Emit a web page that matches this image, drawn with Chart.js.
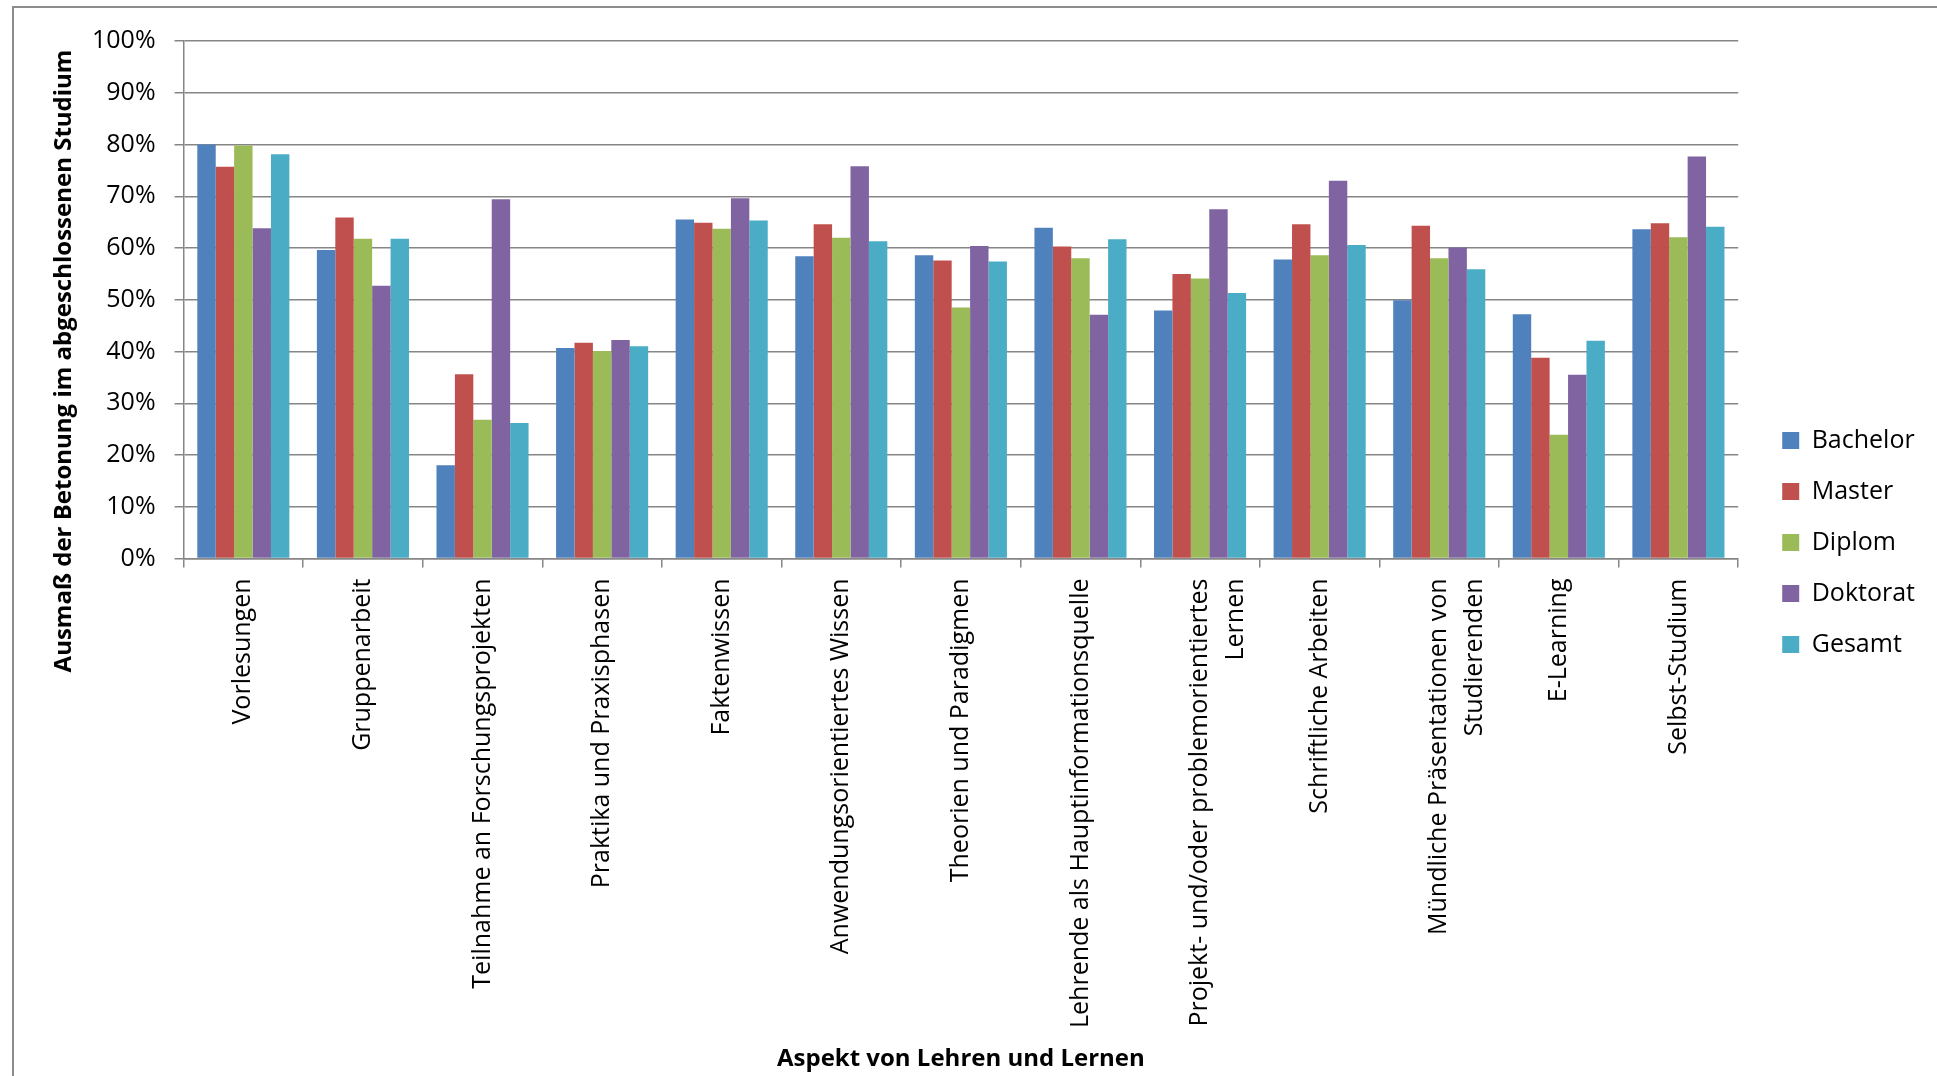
<!DOCTYPE html>
<html>
<head>
<meta charset="utf-8">
<script src="https://cdn.jsdelivr.net/npm/chart.js@4/dist/chart.umd.min.js"></script>
<style>
  html, body { margin: 0; padding: 0; background: #fff; }
  #wrap { width: 1937px; height: 1076px; position: relative; }
</style>
</head>
<body>
<div id="wrap"><canvas id="chart"></canvas></div>
<script>
const aspects = [
  "Vorlesungen",
  "Gruppenarbeit",
  "Teilnahme an Forschungsprojekten",
  "Praktika und Praxisphasen",
  "Faktenwissen",
  "Anwendungsorientiertes Wissen",
  "Theorien und Paradigmen",
  "Lehrende als Hauptinformationsquelle",
  ["Projekt- und/oder problemorientiertes", "Lernen"],
  "Schriftliche Arbeiten",
  ["Mündliche Präsentationen von", "Studierenden"],
  "E-Learning",
  "Selbst-Studium"
];

// values in percent
const bachelor = [80.0, 59.6, 18.0, 40.7, 65.5, 58.4, 58.6, 63.9, 47.9, 57.8, 49.9, 47.2, 63.6];
const master   = [75.7, 65.9, 35.6, 41.7, 64.9, 64.6, 57.6, 60.3, 55.0, 64.6, 64.3, 38.8, 64.8];
const diplom   = [79.8, 61.8, 26.8, 40.1, 63.7, 62.0, 48.5, 58.0, 54.1, 58.6, 58.0, 23.9, 62.1];
const doktorat = [63.8, 52.7, 69.4, 42.2, 69.6, 75.8, 60.4, 47.1, 67.5, 73.0, 60.1, 35.5, 77.7];
const gesamt   = [78.1, 61.8, 26.2, 41.0, 65.3, 61.3, 57.4, 61.7, 51.3, 60.6, 55.9, 42.1, 64.1];

const yTitle = "Ausmaß der Betonung im abgeschlossenen Studium";
const xTitle = "Aspekt von Lehren und Lernen";

Chart.defaults.font.family = "'Open Sans', sans-serif";
Chart.defaults.color = "#000";

const gridGrey = "#868686";

// outer frame + the y axis title (Excel puts it lower than the plot centre)
const decor = {
  id: "decor",
  beforeDraw(chart) {
    const c = chart.ctx;
    c.save();
    c.strokeStyle = "#8c8c8c";
    c.lineWidth = 2;
    c.strokeRect(13, 7, 2000, 1200);
    c.restore();
  },
  afterDraw(chart) {
    const c = chart.ctx;
    c.save();
    c.translate(64, 361);
    c.rotate(-Math.PI / 2);
    c.font = "bold 24px 'Open Sans'";
    c.fillStyle = "#000";
    c.textAlign = "center";
    c.textBaseline = "middle";
    c.fillText(yTitle, 0, 0);
    c.restore();
  }
};

const ds = (label, data, color) => ({
  label: label,
  data: data,
  backgroundColor: color,
  borderWidth: 0,
  categoryPercentage: 0.77,
  barPercentage: 1.0
});

new Chart(document.getElementById("chart"), {
  type: "bar",
  data: {
    labels: aspects,
    datasets: [
      ds("Bachelor", bachelor, "#4F81BD"),
      ds("Master", master, "#C0504D"),
      ds("Diplom", diplom, "#9BBB59"),
      ds("Doktorat", doktorat, "#8064A2"),
      ds("Gesamt", gesamt, "#4BACC6")
    ]
  },
  options: {
    responsive: true,
    maintainAspectRatio: false,
    animation: false,
    layout: { padding: { top: 41, left: 73, right: 12, bottom: 0 } },
    plugins: {
      tooltip: { enabled: false },
      legend: {
        position: "right",
        align: "start",
        // empty title only pushes the entries down to where Excel has them
        title: { display: true, text: "", font: { size: 1, lineHeight: 1 }, padding: { top: 360, bottom: 0 } },
        labels: {
          boxWidth: 17,
          boxHeight: 17,
          padding: 26,
          font: { size: 25 }
        }
      }
    },
    scales: {
      x: {
        grid: { display: true, drawOnChartArea: false, drawTicks: true, tickLength: 9, color: gridGrey, lineWidth: 1.5 },
        border: { display: true, color: gridGrey, width: 1.5 },
        ticks: {
          autoSkip: false,
          minRotation: 90,
          maxRotation: 90,
          padding: 11,
          font: { size: 25, lineHeight: 1.44 }
        },
        title: {
          display: true,
          text: xTitle,
          font: { size: 24, weight: "bold" },
          padding: { top: 8, bottom: 2 }
        }
      },
      y: {
        min: 0,
        max: 100,
        grid: { color: gridGrey, lineWidth: 1.5, tickLength: 9 },
        border: { display: true, color: gridGrey, width: 1.5 },
        ticks: {
          stepSize: 10,
          padding: 19,
          font: { size: 25 },
          callback: v => v + "%"
        }
      },
      // empty spacer between plot and legend
      gap: {
        position: "right",
        display: true,
        grid: { display: false },
        border: { display: false },
        ticks: { display: false },
        afterFit: s => { s.width = 18; }
      }
    }
  },
  plugins: [decor]
});
</script>
</body>
</html>
